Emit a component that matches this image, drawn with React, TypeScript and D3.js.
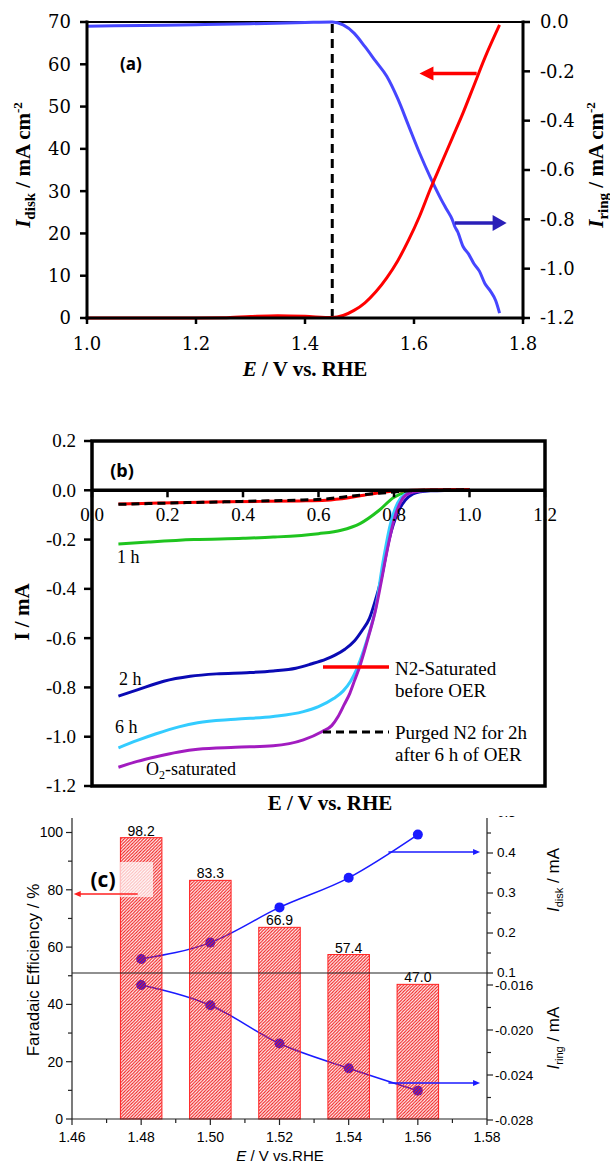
import React from 'react';
import * as d3 from 'd3';

// ---------- Panel (a) ----------
const aDiskE = [1.0, 1.05, 1.1, 1.15, 1.2, 1.25, 1.3, 1.35, 1.4, 1.45, 1.47, 1.49, 1.51, 1.53, 1.55, 1.57, 1.59, 1.61, 1.63, 1.65, 1.67, 1.69, 1.71, 1.73, 1.757];
const aDiskI = [0, 0, 0, 0, 0, 0.05, 0.35, 0.55, 0.4, 0.1, 0.6, 1.8, 3.6, 6.2, 9.5, 13.5, 18.4, 24, 30.5, 36.5, 42.5, 48.5, 55, 61.5, 69.3];
const aRingE = [1.0, 1.1, 1.2, 1.3, 1.4, 1.45, 1.47, 1.49, 1.51, 1.53, 1.55, 1.57, 1.59, 1.61, 1.63, 1.65, 1.66, 1.67, 1.675, 1.68, 1.69, 1.7, 1.71, 1.72, 1.73, 1.74, 1.75, 1.757];
const aRingI = [-0.017, -0.014, -0.011, -0.007, -0.002, 0, -0.012, -0.045, -0.1, -0.16, -0.22, -0.31, -0.42, -0.53, -0.63, -0.72, -0.76, -0.8, -0.83, -0.85, -0.91, -0.94, -0.98, -1.01, -1.06, -1.09, -1.13, -1.18];
const aXTicks = [1.0, 1.2, 1.4, 1.6, 1.8];
const aLeftTicks = [0, 10, 20, 30, 40, 50, 60, 70];
const aRightTicks = [0, -0.2, -0.4, -0.6, -0.8, -1.0, -1.2];

// ---------- Panel (b) ----------
const bRedE = [0.07, 0.15, 0.25, 0.35, 0.45, 0.55, 0.62, 0.68, 0.72, 0.76, 0.8, 0.85, 0.9, 0.95, 1.0];
const bRedI = [-0.056, -0.053, -0.05, -0.047, -0.045, -0.043, -0.04, -0.03, -0.02, -0.01, -0.003, 0, 0.002, 0.003, 0.003];
const bDashE = [0.07, 0.15, 0.25, 0.35, 0.45, 0.55, 0.62, 0.68, 0.72, 0.76, 0.8, 0.84, 0.88, 0.95, 1.0];
const bDashI = [-0.057, -0.054, -0.05, -0.047, -0.043, -0.04, -0.035, -0.025, -0.018, -0.012, -0.007, -0.002, 0, 0.001, 0.002];
const b1hE = [0.07, 0.15, 0.27, 0.4, 0.48, 0.6, 0.66, 0.71, 0.76, 0.8, 0.835, 0.87, 0.93, 1.0];
const b1hI = [-0.218, -0.21, -0.2, -0.195, -0.19, -0.176, -0.162, -0.135, -0.082, -0.028, -0.006, -0.001, 0, 0];
const b2hE = [0.07, 0.12, 0.19, 0.26, 0.33, 0.41, 0.48, 0.54, 0.58, 0.62, 0.645, 0.67, 0.695, 0.715, 0.735, 0.75, 0.766, 0.787, 0.81, 0.83, 0.85, 0.87, 0.9, 0.95, 1.0];
const b2hI = [-0.835, -0.81, -0.775, -0.755, -0.745, -0.74, -0.733, -0.722, -0.705, -0.685, -0.668, -0.645, -0.612, -0.57, -0.52, -0.45, -0.36, -0.2, -0.09, -0.04, -0.015, -0.006, -0.002, 0, 0.002];
const b6hE = [0.07, 0.12, 0.17, 0.23, 0.28, 0.38, 0.48, 0.56, 0.6, 0.64, 0.665, 0.685, 0.7, 0.72, 0.735, 0.75, 0.771, 0.79, 0.81, 0.83, 0.85, 0.87, 0.9, 0.95, 1.0];
const b6hI = [-1.045, -1.015, -0.988, -0.96, -0.943, -0.929, -0.918, -0.898, -0.878, -0.845, -0.815, -0.775, -0.73, -0.648, -0.575, -0.49, -0.29, -0.14, -0.05, -0.015, -0.005, -0.002, 0, 0, 0.002];
const bO2E = [0.07, 0.12, 0.17, 0.23, 0.28, 0.38, 0.48, 0.56, 0.61, 0.635, 0.652, 0.668, 0.683, 0.696, 0.709, 0.722, 0.735, 0.751, 0.765, 0.781, 0.8, 0.82, 0.84, 0.87, 0.9, 0.95, 1.0];
const bO2I = [-1.124, -1.1, -1.081, -1.062, -1.051, -1.043, -1.037, -1.013, -0.979, -0.955, -0.918, -0.87, -0.824, -0.77, -0.716, -0.65, -0.58, -0.486, -0.38, -0.25, -0.12, -0.04, -0.012, -0.003, 0, 0, 0];
const bXTicks = [0, 0.2, 0.4, 0.6, 0.8, 1.0, 1.2];
const bYTicks = [0.2, 0, -0.2, -0.4, -0.6, -0.8, -1.0, -1.2];

// ---------- Panel (c) ----------
const cPotential = [1.48, 1.5, 1.52, 1.54, 1.56];
const cFE = [98.2, 83.3, 66.9, 57.4, 47.0];
const cDisk = [0.135, 0.176, 0.264, 0.338, 0.446];
const cRing = [-0.016, -0.0178, -0.0212, -0.0234, -0.0254];
const cXTicks = [1.46, 1.48, 1.5, 1.52, 1.54, 1.56, 1.58];
const cXMinor = [1.47, 1.49, 1.51, 1.53, 1.55, 1.57];
const cFETicks = [0, 20, 40, 60, 80, 100];
const cFEMinor = [10, 30, 50, 70, 90];
const cDiskTicks = [0.1, 0.2, 0.3, 0.4, 0.5];
const cDiskMinor = [0.15, 0.25, 0.35, 0.45];
const cRingTicks = [-0.016, -0.02, -0.024, -0.028];
const cRingMinor = [-0.018, -0.022, -0.026];

const serifA = 'DejaVu Serif, serif';
const serifB = 'Liberation Serif, Times New Roman, serif';
const sans = 'Liberation Sans, Arial, sans-serif';
const labelSans = 'Open Sans, Lato, sans-serif';

function zip(xs: number[], ys: number[]): [number, number][] {
  return xs.map((x, i) => [x, ys[i]]);
}

export default function App() {
  // Panel a scales
  const ax = d3.scaleLinear().domain([1.0, 1.8]).range([87, 523]);
  const ayL = d3.scaleLinear().domain([0, 70]).range([318, 22]);
  const ayR = d3.scaleLinear().domain([-1.2, 0]).range([318, 22]);
  const aDiskLine = d3.line<[number, number]>().x(d => ax(d[0])).y(d => ayL(d[1])).curve(d3.curveMonotoneX);
  const aRingLine = d3.line<[number, number]>().x(d => ax(d[0])).y(d => ayR(d[1])).curve(d3.curveMonotoneX);

  // Panel b scales
  const bx = d3.scaleLinear().domain([0, 1.2]).range([92, 545]);
  const by = d3.scaleLinear().domain([-1.2, 0.2]).range([786, 441]);
  const bLine = d3.line<[number, number]>().x(d => bx(d[0])).y(d => by(d[1])).curve(d3.curveMonotoneX);

  // Panel c scales
  const cx = d3.scaleLinear().domain([1.46, 1.58]).range([72, 487]);
  const cyFE = d3.scaleLinear().domain([0, 100]).range([1119, 832.5]);
  const cyDisk = d3.scaleLinear().domain([0.1, 0.4]).range([973, 853]);
  const cyRing = d3.scaleLinear().domain([-0.028, -0.016]).range([1120, 985]);
  const cDiskLine = d3.line<[number, number]>().x(d => cx(d[0])).y(d => cyDisk(d[1])).curve(d3.curveMonotoneX);
  const cRingLine = d3.line<[number, number]>().x(d => cx(d[0])).y(d => cyRing(d[1])).curve(d3.curveMonotoneX);
  const barW = cx(1.472) - cx(1.46);
  const cTop = 818;

  const redArrowA = { x1: ax(1.715), x2: ax(1.61), y: ayL(57.8) };
  const blueArrowA = { x1: ax(1.675), x2: ax(1.77), y: ayR(-0.815) };

  return (
    <svg width={610} height={1164} style={{ position: 'absolute', left: 0, top: 0, background: '#fff' }}>
      <defs>
        <pattern id="hatch" patternUnits="userSpaceOnUse" width={3.2} height={3.2}>
          <path d="M-1,1 l2,-2 M0,3.2 l3.2,-3.2 M2.2,4.2 l2,-2" stroke="#f01818" strokeWidth={1.1} />
        </pattern>
        <clipPath id="cclip">
          <rect x={0} y={816} width={610} height={348} />
        </clipPath>
      </defs>

      {/* ================= Panel (a) ================= */}
      <g>
        <line x1={87} x2={523} y1={22} y2={22} stroke="#000" strokeWidth={2} />
        <line x1={ax(1.45)} x2={ax(1.45)} y1={ayL(0)} y2={ayL(70)} stroke="#000" strokeWidth={3} strokeDasharray="9,6" />
        <path d={aRingLine(zip(aRingE, aRingI)) || ''} fill="none" stroke="#4646ff" strokeWidth={3} />
        <path d={aDiskLine(zip(aDiskE, aDiskI)) || ''} fill="none" stroke="#ff0000" strokeWidth={3} />
        {/* arrows */}
        <line x1={redArrowA.x1} x2={redArrowA.x2 + 12} y1={redArrowA.y} y2={redArrowA.y} stroke="#ff0000" strokeWidth={3.5} />
        <polygon points={`${redArrowA.x2},${redArrowA.y} ${redArrowA.x2 + 14},${redArrowA.y - 7} ${redArrowA.x2 + 14},${redArrowA.y + 7}`} fill="#ff0000" />
        <line x1={blueArrowA.x1} x2={blueArrowA.x2 - 12} y1={blueArrowA.y} y2={blueArrowA.y} stroke="#2a1fb8" strokeWidth={3.5} />
        <polygon points={`${blueArrowA.x2},${blueArrowA.y} ${blueArrowA.x2 - 14},${blueArrowA.y - 8} ${blueArrowA.x2 - 14},${blueArrowA.y + 8}`} fill="#2a1fb8" />
        {/* axes */}
        <line x1={87} x2={87} y1={20.5} y2={319.5} stroke="#000" strokeWidth={3} />
        <line x1={523} x2={523} y1={20.5} y2={319.5} stroke="#000" strokeWidth={3} />
        <line x1={85.5} x2={524.5} y1={318} y2={318} stroke="#000" strokeWidth={3} />
        {aLeftTicks.map(t => (
          <g key={'al' + t}>
            <line x1={80} x2={87} y1={ayL(t)} y2={ayL(t)} stroke="#000" strokeWidth={2.5} />
            <text x={71} y={ayL(t)} dy="0.36em" textAnchor="end" fontFamily={serifA} fontSize={18}>{t}</text>
          </g>
        ))}
        {aRightTicks.map(t => (
          <g key={'ar' + t}>
            <line x1={523} x2={530} y1={ayR(t)} y2={ayR(t)} stroke="#000" strokeWidth={2.5} />
            <text x={540} y={ayR(t)} dy="0.36em" textAnchor="start" fontFamily={serifA} fontSize={18}>{t.toFixed(1)}</text>
          </g>
        ))}
        {aXTicks.map(t => (
          <g key={'ax' + t}>
            <line x1={ax(t)} x2={ax(t)} y1={318} y2={324} stroke="#000" strokeWidth={2.5} />
            <text x={ax(t)} y={350} textAnchor="middle" fontFamily={serifA} fontSize={18}>{t.toFixed(1)}</text>
          </g>
        ))}
        <text x={305} y={376} textAnchor="middle" fontFamily={serifB} fontSize={21} fontWeight="bold">
          <tspan fontStyle="italic">E</tspan> / V vs. RHE
        </text>
        <text transform="translate(30,165) rotate(-90)" textAnchor="middle" fontFamily={serifB} fontSize={21} fontWeight="bold">
          <tspan fontStyle="italic">I</tspan>
          <tspan fontSize={15} dy={5}>disk</tspan>
          <tspan dy={-5}> / mA cm</tspan>
          <tspan fontSize={13} dy={-8}>-2</tspan>
        </text>
        <text transform="translate(603,165) rotate(-90)" textAnchor="middle" fontFamily={serifB} fontSize={21} fontWeight="bold">
          <tspan fontStyle="italic">I</tspan>
          <tspan fontSize={15} dy={5}>ring</tspan>
          <tspan dy={-5}> / mA cm</tspan>
          <tspan fontSize={13} dy={-8}>-2</tspan>
        </text>
        <text x={131} y={70} textAnchor="middle" fontFamily={labelSans} fontSize={17} fontWeight="bold">(a)</text>
      </g>

      {/* ================= Panel (b) ================= */}
      <g>
        <path d={bLine(zip(b1hE, b1hI)) || ''} fill="none" stroke="#1fc41f" strokeWidth={3} />
        <path d={bLine(zip(b2hE, b2hI)) || ''} fill="none" stroke="#0a0ab4" strokeWidth={3} />
        <path d={bLine(zip(b6hE, b6hI)) || ''} fill="none" stroke="#33ccff" strokeWidth={3} />
        <path d={bLine(zip(bO2E, bO2I)) || ''} fill="none" stroke="#a21cc0" strokeWidth={3} />
        <path d={bLine(zip(bRedE, bRedI)) || ''} fill="none" stroke="#ff0000" strokeWidth={3} />
        <path d={bLine(zip(bDashE, bDashI)) || ''} fill="none" stroke="#000" strokeWidth={3} strokeDasharray="8,5" />
        {/* frame */}
        <rect x={bx(0)} y={by(0.2)} width={bx(1.2) - bx(0)} height={by(-1.2) - by(0.2)} fill="none" stroke="#000" strokeWidth={3.5} />
        <line x1={bx(0)} x2={bx(1.2)} y1={by(0)} y2={by(0)} stroke="#000" strokeWidth={3.5} />
        {bYTicks.map(t => (
          <g key={'by' + t}>
            <line x1={84} x2={92} y1={by(t)} y2={by(t)} stroke="#000" strokeWidth={2.5} />
            <text x={76} y={by(t)} dy="0.34em" textAnchor="end" fontFamily={serifB} fontSize={19}>{t.toFixed(1)}</text>
          </g>
        ))}
        {bXTicks.map(t => (
          <g key={'bx' + t}>
            <line x1={bx(t)} x2={bx(t)} y1={by(0)} y2={by(0) + 7} stroke="#000" strokeWidth={2.5} />
            <text x={bx(t)} y={521} textAnchor="middle" fontFamily={serifB} fontSize={19}>{t.toFixed(1)}</text>
          </g>
        ))}
        <text x={330} y={810} textAnchor="middle" fontFamily={serifB} fontSize={21} fontWeight="bold">E / V vs. RHE</text>
        <text transform="translate(29,612) rotate(-90)" textAnchor="middle" fontFamily={serifB} fontSize={21} fontWeight="bold">I / mA</text>
        <text x={122} y={477} textAnchor="middle" fontFamily={labelSans} fontSize={18} fontWeight="bold">(b)</text>
        <text x={117} y={563} fontFamily={serifB} fontSize={18}>1 h</text>
        <text x={119} y={685} fontFamily={serifB} fontSize={18}>2 h</text>
        <text x={115} y={733} fontFamily={serifB} fontSize={18}>6 h</text>
        <text x={146} y={775} fontFamily={serifB} fontSize={18}>
          O<tspan fontSize={12} dy={4}>2</tspan><tspan dy={-4}>-saturated</tspan>
        </text>
        {/* legend */}
        <line x1={323} x2={389} y1={667} y2={667} stroke="#ff0000" strokeWidth={3.5} />
        <text x={395} y={675} fontFamily={serifB} fontSize={19}>N2-Saturated</text>
        <text x={395} y={697} fontFamily={serifB} fontSize={19}>before OER</text>
        <line x1={323} x2={389} y1={732} y2={732} stroke="#000" strokeWidth={3} strokeDasharray="8,5" />
        <text x={395} y={739} fontFamily={serifB} fontSize={19}>Purged N2 for 2h</text>
        <text x={395} y={761} fontFamily={serifB} fontSize={19}>after 6 h of OER</text>
      </g>

      {/* ================= Panel (c) ================= */}
      <g clipPath="url(#cclip)">
        {/* lines and points (below bars) */}
        <path d={cDiskLine(zip(cPotential, cDisk)) || ''} fill="none" stroke="#1a1aff" strokeWidth={1.5} />
        <path d={cRingLine(zip(cPotential, cRing)) || ''} fill="none" stroke="#1a1aff" strokeWidth={1.5} />
        {cPotential.map((p, i) => (
          <circle key={'cd' + i} cx={cx(p)} cy={cyDisk(cDisk[i])} r={5} fill="#1a1aff" />
        ))}
        {cPotential.map((p, i) => (
          <circle key={'cr' + i} cx={cx(p)} cy={cyRing(cRing[i])} r={5} fill="#1a1aff" />
        ))}
        {/* bars */}
        {cPotential.map((p, i) => (
          <g key={'bar' + i}>
            <rect x={cx(p) - barW / 2} y={cyFE(cFE[i])} width={barW} height={cyFE(0) - cyFE(cFE[i])} fill="url(#hatch)" stroke="#ff2020" strokeWidth={1} />
            <text x={cx(p)} y={cyFE(cFE[i]) - 2} textAnchor="middle" fontFamily={sans} fontSize={14}>{cFE[i].toFixed(1)}</text>
          </g>
        ))}
        {/* translucent box behind (c) */}
        <rect x={120} y={862} width={33} height={35} fill="#fff" opacity={0.7} />
        {/* divider */}
        <line x1={72} x2={487} y1={cyDisk(0.1)} y2={cyDisk(0.1)} stroke="#222" strokeWidth={1.2} />
        {/* arrows */}
        <line x1={cx(1.479)} x2={cx(1.4605) + 5} y1={cyFE(78.5)} y2={cyFE(78.5)} stroke="#ff2020" strokeWidth={1.5} />
        <polygon points={`${cx(1.4605)},${cyFE(78.5)} ${cx(1.4605) + 7},${cyFE(78.5) - 3} ${cx(1.4605) + 7},${cyFE(78.5) + 3}`} fill="#ff2020" />
        <line x1={cx(1.5515)} x2={cx(1.578) - 5} y1={cyDisk(0.4025)} y2={cyDisk(0.4025)} stroke="#1a1aff" strokeWidth={1.5} />
        <polygon points={`${cx(1.578)},${cyDisk(0.4025)} ${cx(1.578) - 7},${cyDisk(0.4025) - 3} ${cx(1.578) - 7},${cyDisk(0.4025) + 3}`} fill="#1a1aff" />
        <line x1={cx(1.5515)} x2={cx(1.578) - 5} y1={cyRing(-0.0247)} y2={cyRing(-0.0247)} stroke="#1a1aff" strokeWidth={1.5} />
        <polygon points={`${cx(1.578)},${cyRing(-0.0247)} ${cx(1.578) - 7},${cyRing(-0.0247) - 3} ${cx(1.578) - 7},${cyRing(-0.0247) + 3}`} fill="#1a1aff" />
        {/* axes */}
        <line x1={72} x2={72} y1={cTop} y2={1119} stroke="#222" strokeWidth={1.2} />
        <line x1={487} x2={487} y1={cTop} y2={1119} stroke="#222" strokeWidth={1.2} />
        <line x1={72} x2={487} y1={1119} y2={1119} stroke="#222" strokeWidth={1.2} />
        {cXTicks.map(t => (
          <g key={'cx' + t}>
            <line x1={cx(t)} x2={cx(t)} y1={1119} y2={1125} stroke="#222" strokeWidth={1.2} />
            <text x={cx(t)} y={1142} textAnchor="middle" fontFamily={sans} fontSize={14}>{t.toFixed(2)}</text>
          </g>
        ))}
        {cXMinor.map(t => (
          <line key={'cxm' + t} x1={cx(t)} x2={cx(t)} y1={1119} y2={1123} stroke="#222" strokeWidth={1.2} />
        ))}
        {cFETicks.map(t => (
          <g key={'cf' + t}>
            <line x1={66} x2={72} y1={cyFE(t)} y2={cyFE(t)} stroke="#222" strokeWidth={1.2} />
            <text x={63} y={cyFE(t)} dy="0.35em" textAnchor="end" fontFamily={sans} fontSize={14}>{t}</text>
          </g>
        ))}
        {cFEMinor.map(t => (
          <line key={'cfm' + t} x1={68} x2={72} y1={cyFE(t)} y2={cyFE(t)} stroke="#222" strokeWidth={1.2} />
        ))}
        {cDiskTicks.map(t => (
          <g key={'cdt' + t}>
            <line x1={487} x2={493} y1={cyDisk(t)} y2={cyDisk(t)} stroke="#222" strokeWidth={1.2} />
            <text x={497} y={cyDisk(t)} dy="0.3em" textAnchor="start" fontFamily={sans} fontSize={13.5}>{t.toFixed(1)}</text>
          </g>
        ))}
        {cDiskMinor.map(t => (
          <line key={'cdm' + t} x1={487} x2={491} y1={cyDisk(t)} y2={cyDisk(t)} stroke="#222" strokeWidth={1.2} />
        ))}
        {cRingTicks.map(t => (
          <g key={'crt' + t}>
            <line x1={487} x2={493} y1={cyRing(t)} y2={cyRing(t)} stroke="#222" strokeWidth={1.2} />
            <text x={495} y={cyRing(t)} dy="0.4em" textAnchor="start" fontFamily={sans} fontSize={13.5}>{t.toFixed(3)}</text>
          </g>
        ))}
        {cRingMinor.map(t => (
          <line key={'crm' + t} x1={487} x2={491} y1={cyRing(t)} y2={cyRing(t)} stroke="#222" strokeWidth={1.2} />
        ))}
        <text x={280} y={1161} textAnchor="middle" fontFamily={sans} fontSize={15}>
          <tspan fontStyle="italic">E</tspan> / V vs.RHE
        </text>
        <text transform="translate(39,970) rotate(-90)" textAnchor="middle" fontFamily={sans} fontSize={17}>Faradaic Efficiency / %</text>
        <text transform="translate(559,880) rotate(-90)" textAnchor="middle" fontFamily={sans} fontSize={17}>
          <tspan fontStyle="italic">I</tspan>
          <tspan fontSize={11} dy={4}>disk</tspan>
          <tspan dy={-4}> / mA</tspan>
        </text>
        <text transform="translate(559,1038) rotate(-90)" textAnchor="middle" fontFamily={sans} fontSize={17}>
          <tspan fontStyle="italic">I</tspan>
          <tspan fontSize={11} dy={4}>ring</tspan>
          <tspan dy={-4}> / mA</tspan>
        </text>
        <text x={103} y={887} textAnchor="middle" fontFamily={labelSans} fontSize={21} fontWeight="bold">(c)</text>
      </g>
    </svg>
  );
}
